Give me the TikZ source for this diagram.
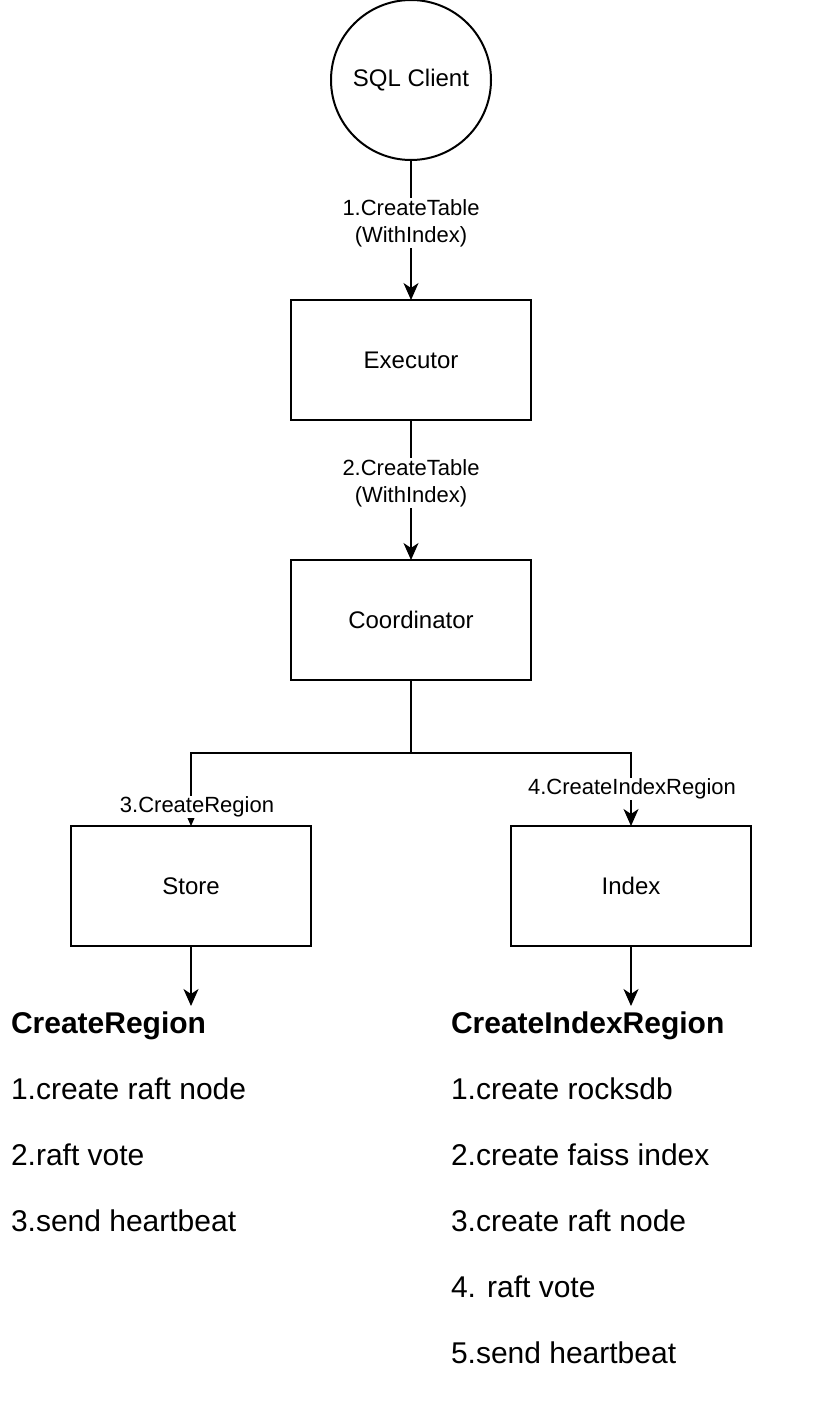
\documentclass[tikz,border=0pt]{standalone}
\usepackage{fontspec}
\setmainfont{Liberation Sans}
\usetikzlibrary{arrows.meta,positioning}

\begin{document}
\begin{tikzpicture}[x=1pt,y=-1pt,line width=2pt,node distance=140pt,
  arr/.style={-{Stealth[length=17pt,width=15pt,inset=5pt]}},
  box/.style={rectangle,draw,outer sep=0pt,minimum width=240pt,minimum height=120pt,font=\fontsize{24}{28}\selectfont},
  lbl/.style={fill=white,align=center,inner sep=1pt,font=\fontsize{22}{27}\selectfont},
  item/.style={anchor=base west,inner sep=0pt,font=\fontsize{30}{35}\selectfont}]
  \useasboundingbox (0,0) rectangle (822,1408);

  \node[circle,draw,outer sep=0pt,minimum size=160pt,font=\fontsize{24}{28}\selectfont] (client) at (411,80) {SQL Client};
  \node[box] (exec) [below=of client] {Executor};
  \node[box] (coord) [below=of exec] {Coordinator};
  \node[box] (store) at (191,886) {Store};
  \node[box] (index) at (631,886) {Index};
  \coordinate (fork) at (411,753);
  \coordinate (sEnd) at (191,1006);
  \coordinate (iEnd) at (631,1006);

  \draw[arr] (client) -- node[lbl,pos=0.45] {1.CreateTable\\(WithIndex)} (exec);
  \draw[arr] (exec) -- node[lbl,pos=0.45] {2.CreateTable\\(WithIndex)} (coord);
  \draw[arr] (coord) -- (fork) -| (store);
  \draw[arr] (fork) -| (index);
  \node[lbl] (l3) at (197,807) {3.CreateRegion};
  \node[lbl] (l4) at (632,789) {4.CreateIndexRegion};
  \draw[arr] (store) -- (sEnd);
  \draw[arr] (index) -- (iEnd);

  % what each one does
  \node[item,font=\fontsize{30}{35}\selectfont\bfseries] (sHead) at (10,1033) {CreateRegion};
  \foreach \t [count=\i] in {1.create raft node,2.raft vote,3.send heartbeat}
    \node[item] (s\i) at (10,{1033+66*\i}) {\t};
  \node[item,font=\fontsize{30}{35}\selectfont\bfseries] (iHead) at (450,1033) {CreateIndexRegion};
  \foreach \t [count=\i] in {1.create rocksdb,2.create faiss index,3.create raft node,4. raft vote,5.send heartbeat}
    \node[item] (i\i) at (450,{1033+66*\i}) {\t};
\end{tikzpicture}
\end{document}
